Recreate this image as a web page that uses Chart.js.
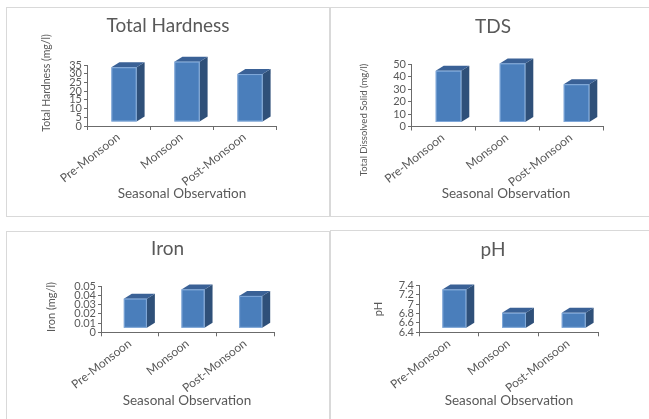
<!DOCTYPE html>
<html>
<head>
<meta charset="utf-8">
<script src="https://cdn.jsdelivr.net/npm/chart.js@4"></script>
<style>
  body { margin: 0; background: #fff; width: 649px; height: 419px; overflow: hidden; position: relative; }
  .panel { position: absolute; border: 1px solid #d9d9d9; box-sizing: border-box; overflow: hidden; background: #fff; }
  .panel canvas { display: block; }
</style>
</head>
<body>
<div class="panel" style="left:6px; top:7px; width:324px; height:210px;"><canvas id="hardnessChart"></canvas></div>
<div class="panel" style="left:330px; top:7px; width:321px; height:210px;"><canvas id="tdsChart"></canvas></div>
<div class="panel" style="left:6px; top:231px; width:324px; height:192px;"><canvas id="ironChart"></canvas></div>
<div class="panel" style="left:330px; top:230px; width:321px; height:193px;"><canvas id="phChart"></canvas></div>
<script>
// Seasonal water quality readings
const seasons = ['Pre-Monsoon', 'Monsoon', 'Post-Monsoon'];
const hardness = [31.4, 34.6, 27.5];   // mg/l
const tds = [41.4, 47.3, 30.6];        // mg/l
const iron = [0.032, 0.042, 0.035];    // mg/l
const ph = [7.23, 6.73, 6.73];

// value axis ranges: [min, max, step]
const hardnessRange = [0, 35, 5];
const tdsRange = [0, 50, 10];
const ironRange = [0, 0.05, 0.01];
const phRange = [6.4, 7.4, 0.2];

const FONT = 'Lato, "Open Sans", sans-serif';
const TEXT = '#595959';
const AXIS = '#6b6b6b';

// Excel-like 3D column faces drawn from each bar element
const columns3d = {
    id: 'columns3d',
    afterDatasetsDraw(chart) {
        const ctx = chart.ctx;
        const shiftX = 5.5, shiftY = 4, depthX = 8, depthY = 5;
        chart.getDatasetMeta(0).data.forEach(bar => {
            const { x, y, base, width } = bar.getProps(['x', 'y', 'base', 'width'], true);
            const left = x - width / 2 + shiftX;
            const right = left + width;
            const top = y - shiftY;
            const bottom = base - shiftY;
            ctx.save();
            // side
            ctx.fillStyle = '#2f5079';
            ctx.beginPath();
            ctx.moveTo(right, top);
            ctx.lineTo(right + depthX, top - depthY);
            ctx.lineTo(right + depthX, bottom - depthY);
            ctx.lineTo(right, bottom);
            ctx.closePath();
            ctx.fill();
            // top
            ctx.fillStyle = '#3a6196';
            ctx.beginPath();
            ctx.moveTo(left, top);
            ctx.lineTo(left + depthX, top - depthY);
            ctx.lineTo(right + depthX, top - depthY);
            ctx.lineTo(right, top);
            ctx.closePath();
            ctx.fill();
            // front
            ctx.fillStyle = '#4a7ebb';
            ctx.fillRect(left, top, width, bottom - top);
            ctx.strokeStyle = 'rgba(150,185,230,0.7)';
            ctx.lineWidth = 1;
            ctx.strokeRect(left + 0.5, top + 0.5, width - 1, bottom - top - 1);
            ctx.restore();
        });
    }
};

// chart title and axis titles at fixed spots in each panel
const captions = {
    id: 'captions',
    afterDraw(chart, args, opts) {
        const ctx = chart.ctx;
        ctx.save();
        ctx.fillStyle = TEXT;
        ctx.textAlign = 'center';
        ctx.textBaseline = 'middle';
        ctx.font = `${opts.titleSize}px ${FONT}`;
        ctx.fillText(opts.title, opts.titleAt[0], opts.titleAt[1]);
        ctx.font = `${opts.xSize}px ${FONT}`;
        ctx.fillText(opts.xTitle, opts.xAt[0], opts.xAt[1]);
        ctx.translate(opts.yAt[0], opts.yAt[1]);
        ctx.rotate(-Math.PI / 2);
        ctx.font = `${opts.ySize}px ${FONT}`;
        ctx.fillText(opts.yTitle, 0, 0);
        ctx.restore();
    }
};

function makeChart(id, values, range, area, size, caps) {
    const canvas = document.getElementById(id);
    canvas.width = size[0];
    canvas.height = size[1];
    return new Chart(canvas, {
        type: 'bar',
        data: {
            labels: seasons,
            datasets: [{
                data: values,
                base: range[0],
                backgroundColor: 'rgba(0,0,0,0)',
                barPercentage: 0.4,
                categoryPercentage: 1
            }]
        },
        options: {
            responsive: false,
            animation: false,
            layout: {
                padding: { left: 0, top: area.top, right: size[0] - area.right, bottom: 0 }
            },
            plugins: {
                legend: { display: false },
                tooltip: { enabled: false },
                title: { display: false },
                captions: caps
            },
            scales: {
                x: {
                    afterFit: s => { s.height = size[1] - area.bottom; },
                    border: { display: true, color: AXIS, width: 1 },
                    grid: { display: true, drawOnChartArea: false, drawTicks: true, tickLength: 4, color: AXIS },
                    ticks: {
                        color: TEXT,
                        font: { family: FONT, size: 12 },
                        minRotation: 38,
                        maxRotation: 38,
                        padding: 0,
                        autoSkip: false
                    }
                },
                y: {
                    min: range[0],
                    max: range[1],
                    afterFit: s => { s.width = area.left; },
                    border: { display: true, color: AXIS, width: 1 },
                    grid: { display: true, drawOnChartArea: false, drawTicks: true, tickLength: 3, color: AXIS },
                    ticks: {
                        stepSize: range[2],
                        autoSkip: false,
                        color: TEXT,
                        padding: 2,
                        font: { family: FONT, size: 11 },
                        callback: v => String(parseFloat(v.toFixed(3)))
                    }
                }
            }
        },
        plugins: [columns3d, captions]
    });
}

makeChart('hardnessChart', hardness, hardnessRange,
    { left: 80, right: 269, top: 57, bottom: 118 }, [322, 208],
    { title: 'Total Hardness', titleSize: 19, titleAt: [161, 18],
      xTitle: 'Seasonal Observation', xSize: 13.5, xAt: [175, 186],
      yTitle: 'Total Hardness (mg/l)', ySize: 10.5, yAt: [40, 75] });

makeChart('tdsChart', tds, tdsRange,
    { left: 80, right: 272, top: 56, bottom: 118.5 }, [319, 208],
    { title: 'TDS', titleSize: 19, titleAt: [162, 18.5],
      xTitle: 'Seasonal Observation', xSize: 13.5, xAt: [175, 186],
      yTitle: 'Total Dissolved Solid (mg/l)', ySize: 9.5, yAt: [33, 112] });

makeChart('ironChart', iron, ironRange,
    { left: 94, right: 267, top: 54, bottom: 100.3 }, [322, 190],
    { title: 'Iron', titleSize: 19, titleAt: [160.5, 17],
      xTitle: 'Seasonal Observation', xSize: 13.5, xAt: [180, 169],
      yTitle: 'Iron (mg/l)', ySize: 11, yAt: [44, 75] });

makeChart('phChart', ph, phRange,
    { left: 88, right: 267, top: 54.5, bottom: 101.3 }, [319, 191],
    { title: 'pH', titleSize: 19, titleAt: [162, 19],
      xTitle: 'Seasonal Observation', xSize: 13.5, xAt: [178, 170],
      yTitle: 'pH', ySize: 11, yAt: [47, 78] });
</script>
</body>
</html>
